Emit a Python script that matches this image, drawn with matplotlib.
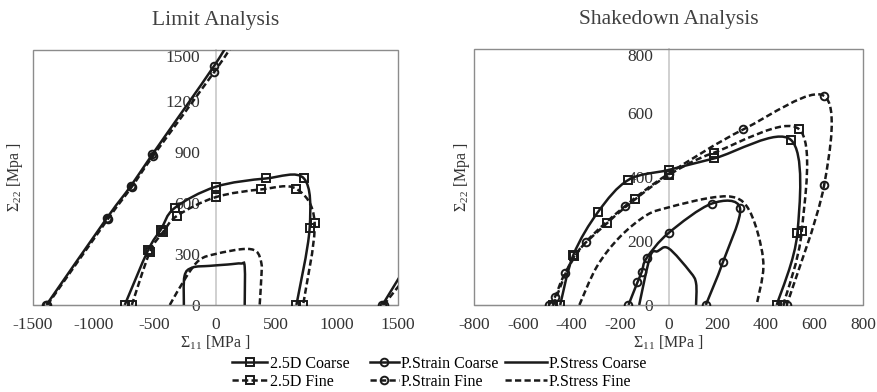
import numpy as np
import matplotlib.pyplot as plt
from matplotlib.path import Path
from matplotlib.patches import PathPatch, Rectangle
from matplotlib.lines import Line2D

plt.rcParams['font.family'] = ['Liberation Serif', 'DejaVu Serif']
plt.rcParams['mathtext.fontset'] = 'custom'
plt.rcParams['mathtext.rm'] = 'Liberation Serif'
plt.rcParams['mathtext.it'] = 'Liberation Serif:italic'
plt.rcParams['axes.unicode_minus'] = False

# ---- Limit analysis ----
lim_25d_coarse_x = [-746, -555, -450, -335, 0, 413, 727, 774, 665]
lim_25d_coarse_y = [0, 321, 443, 571, 695, 744, 744, 453, 0]
lim_25d_fine_x = [-688, -541, -431, -313, 0, 377, 665, 815, 720]
lim_25d_fine_y = [0, 309, 429, 526, 634, 680, 683, 483, 0]
lim_strain_coarse_x = [-1390, -892, -697, -519, -10, 150, np.nan, 1372, 1560]
lim_strain_coarse_y = [0, 512, 699, 886, 1408, 1600, np.nan, 0, 220]
lim_strain_fine_x = [-1382, -885, -690, -512, -12, 205, np.nan, 1382, 1560]
lim_strain_fine_y = [0, 505, 693, 878, 1369, 1600, np.nan, 0, 160]
lim_stress_coarse_x = [-260, -255, -190, -50, 100, 210, 240, 240]
lim_stress_coarse_y = [0, 170, 220, 230, 238, 244, 225, 0]
lim_stress_fine_x = [-376, -239, -130, 7, 226, 336, 377, 377, 363]
lim_stress_fine_y = [0, 167, 266, 301, 329, 315, 246, 167, 0]

# ---- Shakedown analysis ----
sd_25d_coarse_x = [-446, -392, -289, -165, 0, 187, 503, 530, 445]
sd_25d_coarse_y = [0, 156, 292, 391, 422, 458, 516, 226, 0]
sd_25d_fine_x = [-474, -388, -254, -138, 0, 187, 537, 548, 472]
sd_25d_fine_y = [0, 152, 255, 330, 406, 476, 549, 232, 0]
sd_strain_coarse_x = [-165, -128, -110, -90, 0, 178, 294, 223, 153]
sd_strain_coarse_y = [0, 71, 104, 147, 225, 317, 302, 133, 0]
sd_strain_fine_x = [-494, -467, -426, -341, -179, 0, 308, 640, 640, 486]
sd_strain_fine_y = [0, 26, 99, 196, 309, 410, 549, 653, 375, 0]
sd_stress_coarse_x = [-121, -76, -45, 0, 88, 113, 113]
sd_stress_coarse_y = [0, 151, 168, 177, 104, 68, 0]
sd_stress_fine_x = [-367, -295, -200, -90, 0, 157, 260, 320, 365, 390, 362]
sd_stress_fine_y = [0, 120, 213, 281, 305, 333, 338, 310, 230, 120, 0]

labels = ['2.5D Coarse', '2.5D Fine', 'P.Strain Coarse', 'P.Strain Fine',
          'P.Stress Coarse', 'P.Stress Fine']

ink = '#1a1a1a'
solid = '-'
dashed = (0, (2.5, 1.3))
lw = 1.8


def smooth_path(xs, ys):
    # smoothed line like excel (catmull-rom as cubic bezier)
    pts = np.column_stack([xs, ys])
    n = len(pts)
    verts = [pts[0]]
    codes = [Path.MOVETO]
    for i in range(n - 1):
        p0 = pts[max(i - 1, 0)]
        p1 = pts[i]
        p2 = pts[i + 1]
        p3 = pts[min(i + 2, n - 1)]
        verts += [p1 + (p2 - p0) / 6, p2 - (p3 - p1) / 6, p2]
        codes += [Path.CURVE4] * 3
    return Path(verts, codes)


def draw(ax, x, y, ls, marker=None):
    x = np.asarray(x, float)
    y = np.asarray(y, float)
    cuts = np.where(np.isnan(x))[0]
    for sx, sy in zip(np.split(x, cuts), np.split(y, cuts)):
        ok = ~np.isnan(sx)
        ax.add_patch(PathPatch(smooth_path(sx[ok], sy[ok]), fill=False, ec=ink,
                               lw=lw, ls=ls, capstyle='butt', zorder=2))
    if marker:
        ax.plot(x, y, ls='none', marker=marker, ms=5.5, mfc='none', mec=ink,
                mew=1.4, zorder=3)


def setup(ax, xlim, ylim, xticks, yticks, title, ylab_x):
    ax.set_xlim(xlim)
    ax.set_ylim(ylim)
    ax.set_xticks(xticks)
    ax.set_yticks(yticks)
    ax.spines['left'].set_position(('data', 0))
    ax.spines['left'].set_color('#c8c8c8')
    ax.spines['left'].set_linewidth(1.2)
    ax.spines['left'].set_zorder(0)
    ax.spines['bottom'].set_color('#8c8c8c')
    ax.spines['top'].set_visible(False)
    ax.spines['right'].set_visible(False)
    ax.add_patch(Rectangle((0, 0), 1, 1, transform=ax.transAxes, fill=False,
                           ec='#8c8c8c', lw=1, clip_on=False, zorder=1))
    ax.tick_params(length=0, labelsize=12.5, colors='#333333')
    ax.tick_params(axis='y', pad=11)
    ax.tick_params(axis='x', pad=9)
    ax.yaxis.get_major_ticks()[-1].label1.set_va('top')
    ax.set_title(title, fontsize=15.5, color='#404040', pad=18)
    ax.set_xlabel(r'$\Sigma_{11}$ [MPa ]', fontsize=11.5, color='#333333', labelpad=0)
    ax.set_ylabel(r'$\Sigma_{22}$ [Mpa ]', fontsize=11.5, color='#333333')
    ax.yaxis.set_label_coords(ylab_x, 0.5)
    ax.yaxis.label.set_va('center')


fig = plt.figure(figsize=(8.78, 3.92), dpi=100)
ax1 = fig.add_axes([0.0376, 0.222, 0.4157, 0.6505])
ax2 = fig.add_axes([0.540, 0.222, 0.443, 0.653])

# Limit
draw(ax1, lim_25d_coarse_x, lim_25d_coarse_y, solid, 's')
draw(ax1, lim_25d_fine_x, lim_25d_fine_y, dashed, 's')
draw(ax1, lim_strain_coarse_x, lim_strain_coarse_y, solid, 'o')
draw(ax1, lim_strain_fine_x, lim_strain_fine_y, dashed, 'o')
draw(ax1, lim_stress_coarse_x, lim_stress_coarse_y, solid)
draw(ax1, lim_stress_fine_x, lim_stress_fine_y, dashed)
setup(ax1, (-1500, 1500), (0, 1500), range(-1500, 1501, 500),
      range(0, 1501, 300), 'Limit Analysis', -0.049)

# Shakedown
draw(ax2, sd_25d_coarse_x, sd_25d_coarse_y, solid, 's')
draw(ax2, sd_25d_fine_x, sd_25d_fine_y, dashed, 's')
draw(ax2, sd_strain_coarse_x, sd_strain_coarse_y, solid, 'o')
draw(ax2, sd_strain_fine_x, sd_strain_fine_y, dashed, 'o')
draw(ax2, sd_stress_coarse_x, sd_stress_coarse_y, solid)
draw(ax2, sd_stress_fine_x, sd_stress_fine_y, dashed)
setup(ax2, (-800, 800), (0, 800), range(-800, 801, 200),
      range(0, 801, 200), 'Shakedown Analysis', -0.031)

# legend: one column per pair, placed like the excel legend
styles = [(solid, 's'), (dashed, 's'), (solid, 'o'), (dashed, 'o'),
          (solid, None), (dashed, None)]
handles = [Line2D([], [], color=ink, lw=lw, ls=ls, marker=m, ms=5.5, mfc='none',
                  mec=ink, mew=1.4) for ls, m in styles]
col_x = [232 / 878, 370 / 878, 505 / 878]
col_len = [2.2, 1.8, 2.6]
for i in range(3):
    fig.legend(handles[2 * i:2 * i + 2], labels[2 * i:2 * i + 2], ncol=1,
               loc='center left', bbox_to_anchor=(col_x[i], 0.049),
               frameon=False, fontsize=11.5, handlelength=col_len[i],
               handletextpad=0.15, labelspacing=0.1, borderpad=0,
               borderaxespad=0)

fig.savefig('out.png', dpi=100)
